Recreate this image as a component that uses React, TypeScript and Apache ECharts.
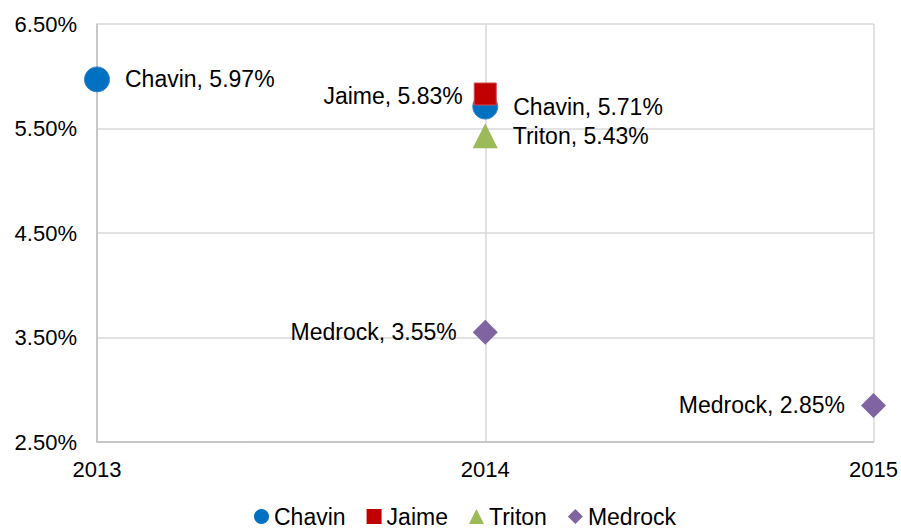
import React, { useEffect, useRef } from "react";
import * as echarts from "echarts";

const chavin: [number, number][] = [[2013, 5.97], [2014, 5.71]];
const jaime: [number, number][] = [[2014, 5.83]];
const triton: [number, number][] = [[2014, 5.43]];
const medrock: [number, number][] = [[2014, 3.55], [2015, 2.85]];

const FONT = "Liberation Sans, Arial, sans-serif";

export default function App() {
  const ref = useRef<HTMLDivElement>(null);
  useEffect(() => {
    if (!ref.current) return;
    const chart = echarts.init(ref.current, null, { renderer: "svg" });
    const lbl = (name: string, pos: string, dist: number) => ({
      show: true,
      position: pos,
      distance: dist,
      color: "#000",
      opacity: 1,
      fontSize: 23,
      fontFamily: FONT,
      formatter: (p: any) => `${name}, ${p.value[1].toFixed(2)}%`,
    });
    chart.setOption({
      animation: false,
      textStyle: { fontFamily: FONT },
      grid: { left: 97, right: 26, top: 24, bottom: 87, containLabel: false },
      legend: {
        top: 505,
        left: 249,
        padding: [0, 5, 0, 5],
        itemGap: 21,
        itemWidth: 15,
        itemHeight: 15,
        textStyle: { fontSize: 23, color: "#000", fontFamily: FONT },
        data: [
          { name: "Chavin", icon: "circle", itemStyle: { color: "#0070c0", borderWidth: 0 } },
          { name: "Jaime", icon: "rect", itemStyle: { color: "#c00000", borderWidth: 0 } },
          { name: "Triton", icon: "triangle", itemStyle: { color: "#9bbb59", borderWidth: 0 } },
          { name: "Medrock", icon: "diamond", itemStyle: { color: "#8064a2", borderWidth: 0 } },
        ],
      },
      xAxis: {
        type: "value",
        min: 2013,
        max: 2015,
        interval: 1,
        axisLine: { show: true, lineStyle: { color: "#bfbfbf", width: 1.5 } },
        axisTick: { show: false },
        splitLine: { show: true, lineStyle: { color: "#d9d9d9", width: 1.5 } },
        axisLabel: { color: "#000", fontSize: 22, margin: 16, formatter: (v: number) => String(v) },
      },
      yAxis: {
        type: "value",
        min: 2.5,
        max: 6.5,
        interval: 1,
        axisLine: { show: true, lineStyle: { color: "#bfbfbf", width: 1.5 } },
        axisTick: { show: false },
        splitLine: { show: true, lineStyle: { color: "#d9d9d9", width: 1.5 } },
        axisLabel: { color: "#000", fontSize: 22, margin: 20, formatter: (v: number) => v.toFixed(2) + "%" },
      },
      series: [
        {
          name: "Chavin",
          type: "scatter",
          symbol: "circle",
          symbolSize: 25,
          data: chavin,
          itemStyle: { color: "#0070c0", borderColor: "#3a86cc", borderWidth: 1, opacity: 1 },
          label: lbl("Chavin", "right", 15),
        },
        {
          name: "Jaime",
          type: "scatter",
          symbol: "rect",
          symbolSize: 22,
          data: jaime,
          itemStyle: { color: "#c00000", borderColor: "#d24a4a", borderWidth: 1, opacity: 1 },
          label: { ...lbl("Jaime", "left", 11), offset: [0, 2] },
        },
        {
          name: "Triton",
          type: "scatter",
          symbol: "triangle",
          symbolSize: 25,
          data: triton,
          itemStyle: { color: "#9bbb59", opacity: 1 },
          label: lbl("Triton", "right", 15),
        },
        {
          name: "Medrock",
          type: "scatter",
          symbol: "diamond",
          symbolSize: 25,
          data: medrock,
          itemStyle: { color: "#8064a2", opacity: 1 },
          label: lbl("Medrock", "left", 16),
        },
      ],
    });
    return () => chart.dispose();
  }, []);
  return <div ref={ref} style={{ width: 901, height: 529, position: "absolute", left: 0, top: 0 }} />;
}
